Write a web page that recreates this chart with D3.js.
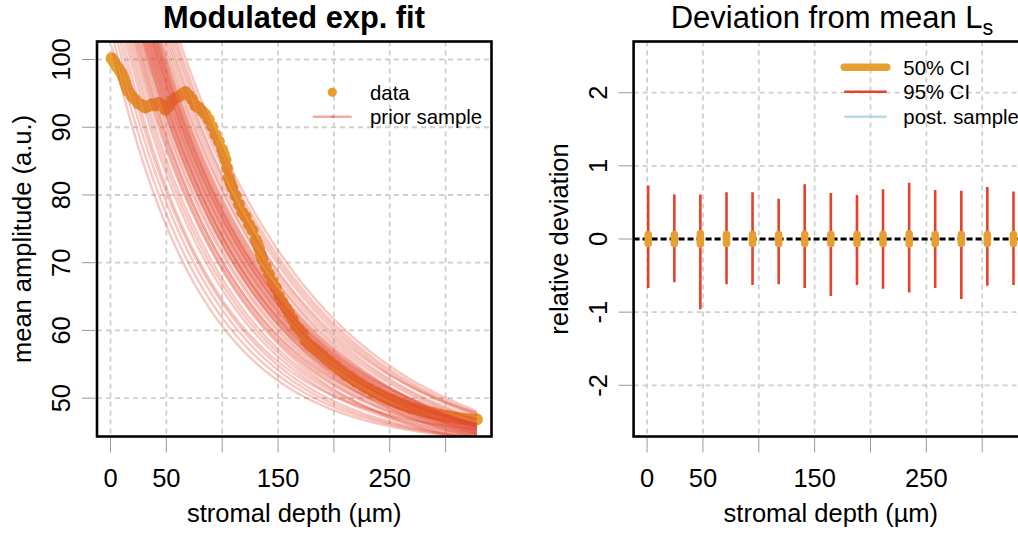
<!DOCTYPE html>
<html><head><meta charset="utf-8">
<script src="https://cdn.jsdelivr.net/npm/d3@7"></script>
<style>
body{margin:0;background:#fff}
svg{display:block}
text{font-family:"Liberation Sans",Arial,Helvetica,sans-serif;fill:#000}
</style>
</head><body>
<svg id="c" width="1018" height="536"></svg>
<script>
// ---------------- data ----------------
const depth = [1,2.5,4,5.5,7,8.5,10,11.5,13,14.5,16,19,22,25,28,31,34,37,40,43,46,49,52,55,58,61,64,67,70,73,76,79,82,85,88,91,94,97,100,101.5,103,104.5,106,107.5,109,112,115,118,121,124,127,130,131.5,133,134.5,136,139,142,145,148,151,154,157,160,163,166,169,172,175,178,181,184,187,190,193,196,199,202,205,208,211,214,217,220,223,226,229,232,235,238,241,244,247,250,253,256,259,262,265,268,271,274,277,280,283,286,289,292,295,298,301,304,307,310,313,316,319,322,325,328];
const amplitude = [100.2,99.8,99.4,99.0,98.7,98.3,97.9,97.3,96.6,95.9,95.3,94.6,94.1,93.5,93.3,92.9,93.1,93.4,93.2,93.6,93.3,92.6,93.1,93.9,94.3,94.5,94.9,95.2,94.7,94.1,93.2,92.9,92.4,91.9,91.1,90.1,88.9,87.9,86.7,86.0,85.2,84.0,82.6,81.8,81.1,79.9,78.6,77.4,76.8,75.6,74.8,73.4,72.8,72.1,71.3,70.5,69.4,68.3,67.2,66.3,65.1,64.2,63.3,62.5,61.7,60.6,60.1,59.5,58.4,57.9,57.5,57.1,56.7,56.3,55.8,55.5,55.0,54.7,54.2,53.9,53.4,53.2,52.8,52.4,52.2,51.8,51.5,51.3,50.9,50.8,50.5,50.3,50.0,49.8,49.7,49.4,49.2,49.0,48.9,48.6,48.5,48.4,48.2,48.1,48.0,47.8,47.8,47.6,47.6,47.4,47.4,47.3,47.2,47.1,47.0,47.0,46.9,46.9,46.8,46.9];

// prior samples of the modulated exponential: offset, amplitude, decay length
const priorC = [43.0,42.9,42.7,42.6,44.0,42.3,42.3,42.2,40.6,42.0,41.9,41.9,43.3,41.7,41.7,40.1,41.6,41.5,41.4,42.9,41.3,41.3,39.7,41.1,41.1,41.0,42.5,40.9,40.8,39.3,40.7,40.6,40.5,41.9,40.3,40.2,40.1,40.0,
                41.6,41.4,41.3,41.2,41.1,40.9,40.8,41.1,41.4,41.0,42.2,40.5];
const priorA = [59.7,62.0,64.4,66.3,67.0,69.9,71.2,72.6,74.8,75.2,76.0,76.9,77.0,78.6,79.4,81.0,81.1,81.9,82.7,83.0,84.4,85.2,86.6,86.7,87.6,88.3,88.7,89.9,90.6,92.2,92.9,94.1,95.2,96.0,97.4,98.5,99.5,100.9,
                80.7,83.2,84.8,86.4,87.9,89.5,91.0,87.2,84.0,88.7,85.6,82.4];
const priorL = [82,84.4,86.8,88.7,84.6,92.6,94,95.4,102.9,98.3,99.3,100.2,95.2,102.2,103.1,110.1,105,106,107,101.9,108.9,109.8,116.8,111.8,112.7,113.7,108.6,115.6,116.6,124,119.4,120.9,122.3,117.8,125.2,126.6,128.1,130,
                104.6,107.4,109.4,111.3,113.2,115.1,117,112.2,108.4,114.2,106.8,110];

// deviation panel
const ciDepth = [1,24.4,47.7,71.1,94.4,117.8,141.1,164.5,187.9,211.2,234.6,257.9,281.3,304.6,328];
const ci95hi = [0.73,0.61,0.61,0.64,0.64,0.55,0.75,0.63,0.60,0.68,0.77,0.67,0.66,0.71,0.65];
const ci95lo = [-0.67,-0.59,-0.96,-0.62,-0.63,-0.62,-0.67,-0.78,-0.63,-0.68,-0.73,-0.67,-0.82,-0.64,-0.63];
const ci50hi = [0.06,0.06,0.07,0.06,0.06,0.06,0.06,0.06,0.06,0.06,0.07,0.06,0.06,0.06,0.06];
const ci50lo = [-0.06,-0.06,-0.07,-0.06,-0.06,-0.06,-0.06,-0.06,-0.06,-0.06,-0.07,-0.06,-0.06,-0.06,-0.06];

const xTicks = [0,50,100,150,200,250,300];
const xTickLabels = ["0","50","","150","","250",""];
const leftYTicks = [50,60,70,80,90,100];
const rightYTicks = [-2,-1,0,1,2];
const xLim = [1,328];
const leftYLim = [46.5,100.5];
const rightYLim = [-2.5,2.5];

// ---------------- styles ----------------
const ORANGE = "#E69F30";
const RED = "#E5412B";
const PRIOR = "#E04A33";
const GRID = "#cfcfcf";
const FONT = 25.5;

const svg = d3.select("#c");
const ext = l => { const r = l[1]-l[0]; return [l[0]-0.04*r, l[1]+0.04*r]; };

function panel(offsetX, yLim, yTicks, clipId){
  const box = {x0:97+offsetX, x1:491.5+offsetX, y0:41.5, y1:436.5};
  const x = d3.scaleLinear().domain(ext(xLim)).range([box.x0, box.x1]);
  const y = d3.scaleLinear().domain(ext(yLim)).range([box.y1, box.y0]);
  svg.append("clipPath").attr("id", clipId).append("rect")
    .attr("x", box.x0).attr("y", box.y0).attr("width", box.x1-box.x0).attr("height", box.y1-box.y0);
  const g = svg.append("g");
  g.selectAll(".gv").data(xTicks).join("line")
    .attr("x1", d=>x(d)).attr("x2", d=>x(d)).attr("y1", box.y0).attr("y2", box.y1)
    .attr("stroke", GRID).attr("stroke-width", 1.8).attr("stroke-dasharray", "5,4");
  g.selectAll(".gh").data(yTicks).join("line")
    .attr("y1", d=>y(d)).attr("y2", d=>y(d)).attr("x1", box.x0).attr("x2", box.x1)
    .attr("stroke", GRID).attr("stroke-width", 1.8).attr("stroke-dasharray", "5,4");
  const plot = svg.append("g").attr("clip-path", `url(#${clipId})`);
  return {box, x, y, plot};
}

function frame(p, yTicks, yLabel){
  const {box, x, y} = p;
  const g = svg.append("g");
  g.append("rect").attr("x", box.x0).attr("y", box.y0).attr("width", box.x1-box.x0).attr("height", box.y1-box.y0)
    .attr("fill","none").attr("stroke","#000").attr("stroke-width",2.6);
  g.selectAll(".xt").data(xTicks).join("line")
    .attr("x1", d=>x(d)).attr("x2", d=>x(d)).attr("y1", box.y1+1.3).attr("y2", box.y1+16)
    .attr("stroke","#999").attr("stroke-width",1);
  g.selectAll(".xl").data(xTicks).join("text")
    .attr("x", d=>x(d)).attr("y", 486.5).attr("text-anchor","middle").attr("font-size",FONT)
    .text((d,i)=>xTickLabels[i]);
  g.selectAll(".yt").data(yTicks).join("line")
    .attr("y1", d=>y(d)).attr("y2", d=>y(d)).attr("x1", box.x0-1.3).attr("x2", box.x0-15)
    .attr("stroke","#999").attr("stroke-width",1);
  g.selectAll(".yl").data(yTicks).join("text")
    .attr("transform", d=>`translate(${box.x0-27},${y(d)}) rotate(-90)`)
    .attr("text-anchor","middle").attr("font-size",FONT)
    .text(d=>d);
  g.append("text").attr("x",(box.x0+box.x1)/2).attr("y",521.5).attr("text-anchor","middle")
    .attr("font-size",FONT).text("stromal depth (\u00b5m)");
  g.append("text").attr("transform",`translate(${box.x0-66},${(box.y0+box.y1)/2}) rotate(-90)`)
    .attr("text-anchor","middle").attr("font-size",FONT).text(yLabel);
}

// ---------------- left panel ----------------
const L = panel(0, leftYLim, leftYTicks, "clipL");
L.plot.selectAll("circle").data(depth).join("circle")
  .attr("cx", d=>L.x(d)).attr("cy", (d,i)=>L.y(amplitude[i])).attr("r",6)
  .attr("fill", ORANGE);
const line = d3.line().x(d=>L.x(d[0])).y(d=>L.y(d[1]));
priorC.forEach((c,k)=>{
  const pts = depth.map(dx => [dx, c + priorA[k]*Math.exp(-dx/priorL[k])]);
  L.plot.append("path").attr("d", line(pts)).attr("fill","none")
    .attr("stroke", PRIOR).attr("stroke-opacity",0.3).attr("stroke-width",2.4);
});
frame(L, leftYTicks, "mean amplitude (a.u.)");
svg.append("text").attr("x",294).attr("y",28).attr("text-anchor","middle")
  .attr("font-size",30.8).attr("font-weight","bold").text("Modulated exp. fit");
const lg = svg.append("g");
lg.append("circle").attr("cx",332.3).attr("cy",92.3).attr("r",4.6).attr("fill",ORANGE);
lg.append("text").attr("x",370).attr("y",99.5).attr("font-size",20.4).text("data");
lg.append("line").attr("x1",312.7).attr("x2",351.7).attr("y1",116.7).attr("y2",116.7)
  .attr("stroke",PRIOR).attr("stroke-opacity",0.45).attr("stroke-width",2.6);
lg.append("circle").attr("cx",332.3).attr("cy",116.7).attr("r",1.2).attr("fill",PRIOR).attr("fill-opacity",0.6);
lg.append("text").attr("x",370).attr("y",123.9).attr("font-size",20.4).text("prior sample");

// ---------------- right panel ----------------
const R = panel(536.6, rightYLim, rightYTicks, "clipR");
R.plot.append("line").attr("x1",R.box.x0).attr("x2",R.box.x1).attr("y1",R.y(0)).attr("y2",R.y(0))
  .attr("stroke","#000").attr("stroke-width",3).attr("stroke-dasharray","6,3");
R.plot.selectAll(".c95").data(ciDepth).join("line")
  .attr("x1", d=>R.x(d)).attr("x2", d=>R.x(d))
  .attr("y1",(d,i)=>R.y(ci95lo[i])).attr("y2",(d,i)=>R.y(ci95hi[i]))
  .attr("stroke",RED).attr("stroke-width",2.6);
R.plot.selectAll(".c50").data(ciDepth).join("line")
  .attr("x1", d=>R.x(d)).attr("x2", d=>R.x(d))
  .attr("y1",(d,i)=>R.y(ci50lo[i])).attr("y2",(d,i)=>R.y(ci50hi[i]))
  .attr("stroke",ORANGE).attr("stroke-width",7.6).attr("stroke-linecap","round");
frame(R, rightYTicks, "relative deviation");
const t2 = svg.append("text").attr("x",832).attr("y",28).attr("text-anchor","middle").attr("font-size",31);
t2.append("tspan").text("Deviation from mean L");
t2.append("tspan").attr("dy",7).attr("font-size",21.5).text("s");
const rg = svg.append("g");
rg.append("line").attr("x1",844.3).attr("x2",886.7).attr("y1",67.3).attr("y2",67.3)
  .attr("stroke",ORANGE).attr("stroke-width",7.6).attr("stroke-linecap","round");
rg.append("text").attr("x",903.3).attr("y",74.5).attr("font-size",20.4).text("50% CI");
rg.append("line").attr("x1",844.3).attr("x2",886.7).attr("y1",91.7).attr("y2",91.7)
  .attr("stroke",RED).attr("stroke-width",2.6);
rg.append("text").attr("x",903.3).attr("y",98.9).attr("font-size",20.4).text("95% CI");
rg.append("line").attr("x1",844.3).attr("x2",886.7).attr("y1",116.7).attr("y2",116.7)
  .attr("stroke","#9CCBDA").attr("stroke-opacity",0.7).attr("stroke-width",2.6);
rg.append("text").attr("x",903.3).attr("y",123.9).attr("font-size",20.4).text("post. sample");
</script>
</body></html>
